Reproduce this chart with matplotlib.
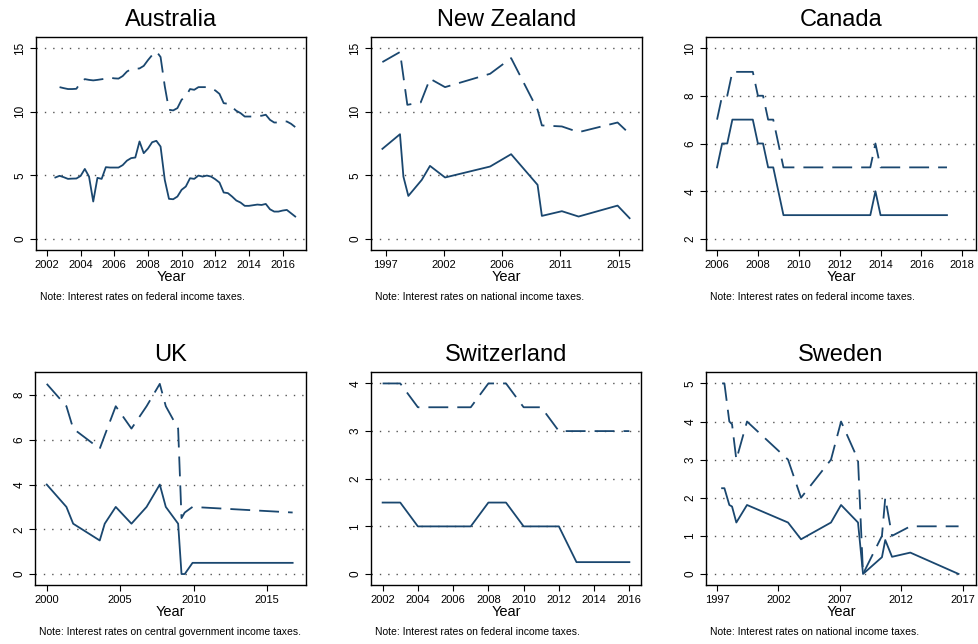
import numpy as np
import matplotlib
matplotlib.use("Agg")
import matplotlib.pyplot as plt

plt.rcParams["font.family"] = ["Liberation Sans", "DejaVu Sans"]

NAVY = "#1a476f"

# Australia, quarterly
aus_x_lo = np.arange(2002.5, 2016.8, 0.25)
aus_lo = [4.83, 4.96, 4.85, 4.72, 4.74, 4.75, 4.95, 5.5, 4.9, 2.94,
          4.8, 4.72, 5.64, 5.61, 5.61, 5.61, 5.8, 6.15, 6.35, 6.4,
          7.66, 6.74, 7.1, 7.6, 7.71, 7.26, 4.64, 3.15, 3.12, 3.33,
          3.86, 4.12, 4.77, 4.72, 4.98, 4.9, 4.98, 4.9, 4.69, 4.43,
          3.65, 3.6, 3.33, 3.02, 2.86, 2.6, 2.6, 2.65, 2.7, 2.67,
          2.75, 2.33, 2.15, 2.15, 2.23, 2.28, 2.02, 1.76]
aus_x_hi = np.arange(2002.75, 2016.8, 0.25)
aus_hi = [11.93, 11.85, 11.78, 11.78, 11.8, 12.3, 12.56, 12.5, 12.46, 12.5,
          12.55, 12.6, 12.67, 12.62, 12.6, 12.8, 13.15, 13.35, 13.37, 13.4,
          13.6, 14.05, 14.45, 14.74, 14.3, 12.0, 10.15, 10.1, 10.28, 10.94,
          11.2, 11.78, 11.72, 11.93, 11.93, 11.93, 11.85, 11.67, 11.4, 10.67,
          10.62, 10.36, 10.07, 9.89, 9.62, 9.62, 9.62, 9.68, 9.68, 9.76,
          9.36, 9.15, 9.15, 9.23, 9.23, 9.05, 8.79]

# New Zealand
nz_x = [1997.24, 1998.63, 1998.9, 1999.29, 2000.35, 2001.0, 2002.19,
        2005.75, 2007.41, 2009.5, 2009.84, 2011.42, 2012.74, 2015.82, 2016.77]
nz_lo = [7.08, 8.23, 4.9, 3.38, 4.64, 5.74, 4.83,
         5.69, 6.66, 4.25, 1.81, 2.18, 1.76, 2.62, 1.63]
nz_x_hi = [1997.24, 1998.63, 1999.21, 2000.27, 2001.0, 2002.19,
           2005.75, 2007.41, 2009.5, 2009.84, 2011.42, 2012.74, 2015.82, 2016.77]
nz_hi = [13.9, 14.69, 10.54, 10.73, 12.59, 11.93,
         12.98, 14.21, 10.15, 8.92, 8.84, 8.39, 9.15, 8.26]
nz_ticks = [1997.5, 2002.1, 2006.7, 2011.3, 2015.9]
nz_labels = ["1997", "2002", "2006", "2011", "2015"]

# Canada, quarterly
can_x = np.arange(2006.0, 2017.3, 0.25)
can_lo = [5, 6, 6, 7, 7, 7, 7, 7, 6, 6, 5, 5, 4,
          3, 3, 3, 3, 3, 3, 3, 3, 3, 3, 3, 3, 3, 3, 3, 3, 3, 3,
          4,
          3, 3, 3, 3, 3, 3, 3, 3, 3, 3, 3, 3, 3, 3]
can_hi = [7, 8, 8, 9, 9, 9, 9, 9, 8, 8, 7, 7, 6,
          5, 5, 5, 5, 5, 5, 5, 5, 5, 5, 5, 5, 5, 5, 5, 5, 5, 5,
          6,
          5, 5, 5, 5, 5, 5, 5, 5, 5, 5, 5, 5, 5, 5]

# UK
uk_x = [2000.0, 2001.34, 2001.8, 2003.61, 2003.95, 2004.7, 2005.77, 2006.8,
        2007.7, 2008.11, 2008.95, 2009.18, 2009.4, 2009.93, 2016.75]
uk_lo = [4.0, 3.0, 2.25, 1.5, 2.25, 3.0, 2.25, 3.0,
         4.0, 3.0, 2.25, 0.0, 0.0, 0.5, 0.5]
uk_hi = [8.5, 7.5, 6.5, 5.6, 6.2, 7.5, 6.5, 7.5,
         8.5, 7.5, 6.5, 2.5, 2.75, 3.0, 2.75]

# Switzerland, annual
ch_x = list(range(2002, 2017))
ch_lo = [1.5, 1.5, 1, 1, 1, 1, 1.5, 1.5, 1, 1, 1, 0.25, 0.25, 0.25, 0.25]
ch_hi = [4, 4, 3.5, 3.5, 3.5, 3.5, 4, 4, 3.5, 3.5, 3, 3, 3, 3, 3]

# Sweden
se_x = [1997.41, 1997.6, 1998.0, 1998.22, 1998.57, 1999.44, 2002.78, 2003.84,
        2006.28, 2007.1, 2008.48, 2008.89, 2010.43, 2010.7, 2011.25, 2012.74, 2016.67]
se_lo = [2.25, 2.25, 1.81, 1.77, 1.35, 1.81, 1.35, 0.91,
         1.35, 1.81, 1.35, 0.0, 0.44, 0.89, 0.45, 0.56, 0.0]
se_hi = [5.0, 5.0, 4.0, 3.93, 3.0, 4.0, 3.0, 2.0,
         3.0, 4.0, 3.0, 0.0, 1.0, 2.0, 1.0, 1.25, 1.25]

W, H = 979, 644
fig = plt.figure(figsize=(W / 100, H / 100), dpi=100)


def panel(left, top, right, bottom, title, note,
          xlo, lo, xhi, hi, xlim, ylim, xticks, xlabels, yticks):
    ax = fig.add_axes([left / W, 1 - bottom / H, (right - left) / W, (bottom - top) / H])
    for y in yticks:
        ax.axhline(y, color="#555555", lw=1.0, ls=(0, (1, 5)), zorder=0)
    ax.plot(xlo, lo, color=NAVY, lw=1.3)
    ax.plot(xhi, hi, color=NAVY, lw=1.3, dashes=(11, 5))
    ax.set_xlim(*xlim)
    ax.set_ylim(*ylim)
    ax.set_xticks(xticks)
    ax.set_xticklabels(xlabels, fontsize=8)
    ax.set_yticks(yticks)
    ax.set_yticklabels([str(v) for v in yticks], fontsize=8.5, rotation=90, va="center")
    ax.tick_params(direction="out", length=4, width=0.8, pad=3)
    for s in ax.spines.values():
        s.set_linewidth(1.0)
    ax.set_title(title, fontsize=17, pad=8)
    ax.set_xlabel("Year", fontsize=10.5, labelpad=0)
    fig.text((left + 4) / W, 1 - (bottom + 47) / H, note, fontsize=7.5, va="center")
    return ax


panel(36, 37, 306, 250, "Australia", "Note: Interest rates on federal income taxes.",
      aus_x_lo, aus_lo, aus_x_hi, aus_hi, (2001.35, 2017.39), (-0.87, 15.87),
      range(2002, 2017, 2), [str(y) for y in range(2002, 2017, 2)], [0, 5, 10, 15])
panel(371, 37, 642, 250, "New Zealand", "Note: Interest rates on national income taxes.",
      nz_x, nz_lo, nz_x_hi, nz_hi, (1996.34, 2017.75), (-0.87, 15.87),
      nz_ticks, nz_labels, [0, 5, 10, 15])
panel(706, 37, 976, 250, "Canada", "Note: Interest rates on federal income taxes.",
      can_x, can_lo, can_x, can_hi, (2005.46, 2018.67), (1.54, 10.46),
      range(2006, 2019, 2), [str(y) for y in range(2006, 2019, 2)], [2, 4, 6, 8, 10])
panel(35, 372, 306, 585, "UK", "Note: Interest rates on central government income taxes.",
      uk_x, uk_lo, uk_x, uk_hi, (1999.2, 2017.66), (-0.49, 9.03),
      [2000, 2005, 2010, 2015], ["2000", "2005", "2010", "2015"], [0, 2, 4, 6, 8])
panel(371, 372, 641, 585, "Switzerland", "Note: Interest rates on federal income taxes.",
      ch_x, ch_lo, ch_x, ch_hi, (2001.34, 2016.66), (-0.23, 4.24),
      range(2002, 2017, 2), [str(y) for y in range(2002, 2017, 2)], [0, 1, 2, 3, 4])
panel(706, 372, 976, 585, "Sweden", "Note: Interest rates on national income taxes.",
      se_x, se_lo, se_x, se_hi, (1996.1, 2018.09), (-0.29, 5.3),
      [1997, 2002, 2007, 2012, 2017], ["1997", "2002", "2007", "2012", "2017"],
      [0, 1, 2, 3, 4, 5])

fig.savefig("out.png", dpi=100)
